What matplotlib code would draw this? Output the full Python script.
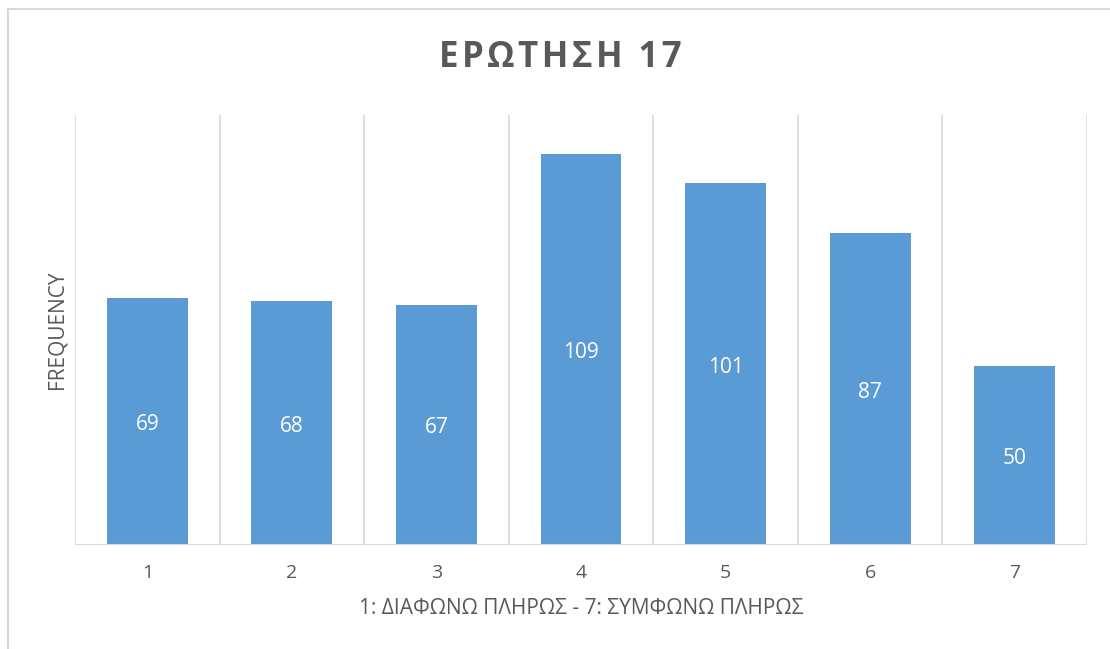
import matplotlib
matplotlib.use("Agg")
import matplotlib.pyplot as plt
from matplotlib.patches import Rectangle

categories = ["1", "2", "3", "4", "5", "6", "7"]
values = [69, 68, 67, 109, 101, 87, 50]
title = "ΕΡΩΤΗΣΗ 17"
xlabel = "1: ΔΙΑΦΩΝΩ ΠΛΗΡΩΣ - 7: ΣΥΜΦΩΝΩ ΠΛΗΡΩΣ"
ylabel = "FREQUENCY"

plt.rcParams['font.family'] = ['Open Sans', 'DejaVu Sans']
W, H = 1110, 649
fig = plt.figure(figsize=(W/100, H/100), dpi=100)

# chart border
fig.patches.append(Rectangle((8/W, -0.1), 1.2, (H-9)/H + 0.1, transform=fig.transFigure,
                             fill=False, edgecolor='#D9D9D9', linewidth=1.5))

left, right, top, bottom = 75, 1087, 115, 545
ax = fig.add_axes([left/W, 1-bottom/H, (right-left)/W, (bottom-top)/H])
x = list(range(len(categories)))
bars = ax.bar(x, values, width=0.56, color='#5B9BD5', zorder=3)
ax.set_xlim(-0.5, len(categories)-0.5)
ax.set_ylim(0, 120)
for xb in [i - 0.5 for i in range(len(categories)+1)]:
    ax.axvline(xb, color='#D9D9D9', linewidth=1.2, zorder=1)
for s in ax.spines.values():
    s.set_visible(False)
ax.axhline(0, color='#D9D9D9', linewidth=1.5, zorder=4)
ax.set_yticks([])
ax.set_xticks(x)
ax.set_xticklabels(categories, fontsize=14, color='#595959')
ax.tick_params(axis='x', length=0, pad=14)
for xi, v in zip(x, values):
    ax.annotate(str(v), (xi, v/2), xytext=(0, -3), textcoords='offset pixels',
                ha='center', va='center', color='white', fontsize=15, zorder=5)

fig.text(560/W, 1-58/H, "\u200a".join(title), ha='center', va='center',
         fontsize=25, fontweight='bold', color='#595959')
fig.text(581/W, 1-608/H, xlabel, ha='center', va='center', fontsize=15, color='#595959')
fig.text(57/W, 1-330/H, ylabel, ha='center', va='center', rotation=90, fontsize=15, color='#595959')

fig.savefig("out.png", dpi=100, facecolor='white')
